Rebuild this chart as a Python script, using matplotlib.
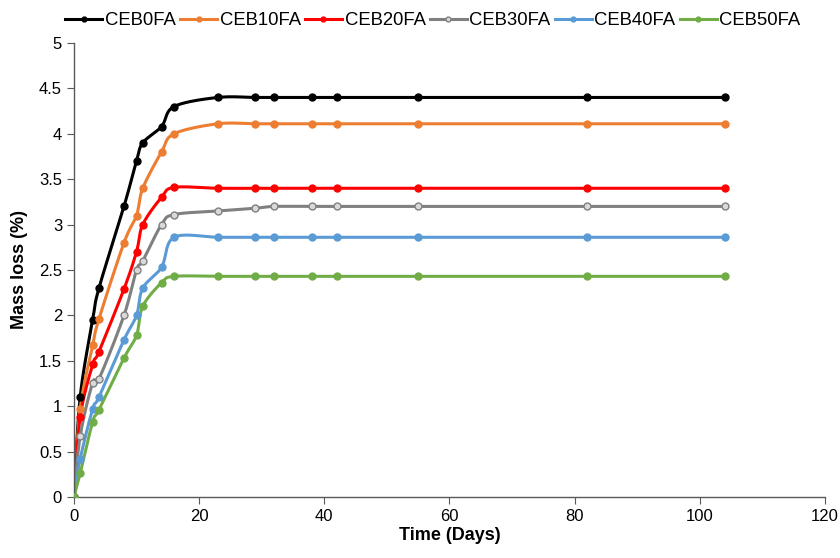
import numpy as np
import matplotlib
matplotlib.use("Agg")
import matplotlib.pyplot as plt

plt.rcParams['font.family'] = ['Liberation Sans', 'DejaVu Sans']

days = [0, 1, 3, 4, 8, 10, 11, 14, 16, 23, 29, 32, 38, 42, 55, 82, 104]
ceb0 = [0, 1.10, 1.95, 2.30, 3.20, 3.70, 3.90, 4.08, 4.30, 4.40, 4.40, 4.40, 4.40, 4.40, 4.40, 4.40, 4.40]
ceb10 = [0, 0.97, 1.67, 1.96, 2.80, 3.10, 3.40, 3.80, 4.00, 4.11, 4.11, 4.11, 4.11, 4.11, 4.11, 4.11, 4.11]
ceb20 = [0, 0.88, 1.46, 1.60, 2.29, 2.70, 3.00, 3.30, 3.41, 3.40, 3.40, 3.40, 3.40, 3.40, 3.40, 3.40, 3.40]
ceb30 = [0, 0.67, 1.26, 1.30, 2.00, 2.50, 2.60, 3.00, 3.11, 3.15, 3.18, 3.20, 3.20, 3.20, 3.20, 3.20, 3.20]
ceb40 = [0, 0.42, 0.97, 1.10, 1.73, 2.00, 2.30, 2.53, 2.86, 2.86, 2.86, 2.86, 2.86, 2.86, 2.86, 2.86, 2.86]
ceb50 = [0, 0.26, 0.83, 0.96, 1.53, 1.78, 2.10, 2.36, 2.43, 2.43, 2.43, 2.43, 2.43, 2.43, 2.43, 2.43, 2.43]

series = [
    ("CEB0FA", ceb0, "#000000", "#000000", "#000000"),
    ("CEB10FA", ceb10, "#ED7D31", "#ED7D31", "#ED7D31"),
    ("CEB20FA", ceb20, "#FF0000", "#FF0000", "#FF0000"),
    ("CEB30FA", ceb30, "#808080", "#D9D9D9", "#808080"),
    ("CEB40FA", ceb40, "#5B9BD5", "#5B9BD5", "#5B9BD5"),
    ("CEB50FA", ceb50, "#70AD47", "#70AD47", "#70AD47"),
]


def smooth(x, y, n=20):
    # Excel-like smoothed line: cubic Bezier segments with Catmull-Rom tangents
    x = np.asarray(x, float)
    y = np.asarray(y, float)
    px, py = [], []
    m = len(x)
    t = np.linspace(0, 1, n)
    for i in range(m - 1):
        x0, y0 = (x[i - 1], y[i - 1]) if i > 0 else (x[i], y[i])
        x3, y3 = (x[i + 2], y[i + 2]) if i + 2 < m else (x[i + 1], y[i + 1])
        c1x = x[i] + (x[i + 1] - x0) / 6
        c1y = y[i] + (y[i + 1] - y0) / 6
        c2x = x[i + 1] - (x3 - x[i]) / 6
        c2y = y[i + 1] - (y3 - y[i]) / 6
        bx = (1 - t) ** 3 * x[i] + 3 * (1 - t) ** 2 * t * c1x + 3 * (1 - t) * t ** 2 * c2x + t ** 3 * x[i + 1]
        by = (1 - t) ** 3 * y[i] + 3 * (1 - t) ** 2 * t * c1y + 3 * (1 - t) * t ** 2 * c2y + t ** 3 * y[i + 1]
        px.extend(bx)
        py.extend(by)
    return np.array(px), np.array(py)


fig = plt.figure(figsize=(8.4, 5.58), dpi=100)
ax = fig.add_axes([0.088, 0.1093, 0.894, 0.8137])

handles = []
for name, vals, col, face, edge in series:
    sx, sy = smooth(days, vals)
    ax.plot(sx, sy, color=col, lw=2.2, zorder=2)
    ax.plot(days, vals, linestyle='none', marker='o', ms=5, mfc=face, mec=edge, mew=1.0, zorder=3)
    h, = ax.plot([], [], color=col, lw=2.2, marker='o', ms=3.5, mfc=face, mec=edge)
    handles.append((h, name))

ax.set_xlim(0, 120)
ax.set_ylim(0, 5)
ax.set_xticks(range(0, 121, 20))
ax.set_yticks(np.arange(0, 5.01, 0.5))
ax.set_yticklabels([f"{v:g}" for v in np.arange(0, 5.01, 0.5)])
ax.tick_params(axis='both', labelsize=12, color='#595959', length=5, direction='out')
for s in ['top', 'right']:
    ax.spines[s].set_visible(False)
for s in ['left', 'bottom']:
    ax.spines[s].set_color('#595959')
    ax.spines[s].set_linewidth(1)

ax.set_xlabel("Time (Days)", fontsize=13, fontweight='bold', labelpad=2)
ax.set_ylabel("Mass loss (%)", fontsize=13, fontweight='bold', labelpad=8)

fig.legend([h for h, _ in handles], [n for _, n in handles], loc='upper center',
           bbox_to_anchor=(0.5155, 1.008), ncol=6, frameon=False, fontsize=13.3,
           handlelength=2.0, handletextpad=0.15, columnspacing=0.22)

fig.savefig("out.png", dpi=100)
